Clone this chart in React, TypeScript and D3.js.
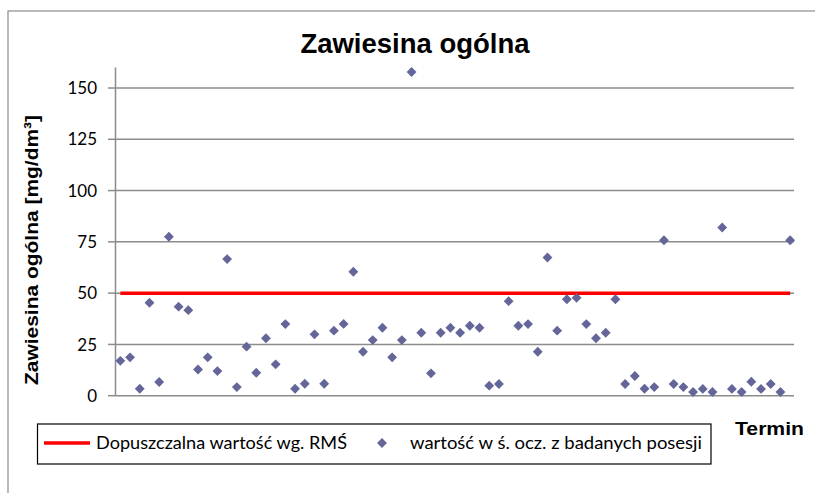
import React from "react";
import * as d3 from "d3";

const values: number[] = [
  17, 18.7, 3.4, 45.3, 6.7, 77.5, 43.4, 41.7, 12.8, 18.7,
  12, 66.6, 4.2, 23.9, 11.2, 28, 15.3, 34.9, 3.4, 5.8,
  29.9, 5.8, 31.7, 35, 60.4, 21.4, 27.1, 33.1, 18.7, 27.1,
  157.8, 30.7, 10.9, 30.7, 33.1, 30.7, 34.1, 33.1, 4.9, 5.7,
  46.1, 34.1, 34.9, 21.4, 67.4, 31.7, 47, 47.7, 34.9, 28,
  30.7, 47, 5.7, 9.6, 3.4, 4.2, 75.8, 5.7, 4.2, 1.8,
  3.3, 1.8, 82, 3.3, 1.8, 6.8, 3.3, 5.7, 1.8, 75.8,
];
const categories: number[] = values.map((_, i) => i + 1);
const limitValue = 50;
const limits: number[] = categories.map(() => limitValue);
const yTicks: number[] = [0, 25, 50, 75, 100, 125, 150];

const title = "Zawiesina ogólna";
const yTitle = "Zawiesina ogólna [mg/dm³]";
const xTitle = "Termin";
const legendLine = "Dopuszczalna wartość wg. RMŚ";
const legendPoints = "wartość w ś. ocz. z badanych posesji";

const W = 815;
const H = 493;
const left = 115.5;
const right = 795;
const top = 67.5;
const bottom = 395.7;

export default function App() {
  const x = d3.scalePoint<number>().domain(categories).range([left, right]).padding(0.5);
  const y = d3.scaleLinear().domain([0, 160]).range([bottom, top]);
  const line = d3
    .line<number>()
    .x((_, i) => x(categories[i]) as number)
    .y((d) => y(d));
  const diamond = d3.symbol().type(d3.symbolDiamond2).size(62)();
  const gridColor = "#8c8c8c";
  const markerColor = "#646699";
  const tickFont = "Lato, 'Open Sans', sans-serif";

  return (
    <svg width={W} height={H} style={{ position: "absolute", left: 0, top: 0 }} xmlns="http://www.w3.org/2000/svg">
      <rect x={0} y={0} width={W} height={H} fill="#fff" />
      <rect x={8} y={11} width={900} height={700} fill="none" stroke={gridColor} strokeWidth={1.2} />
      <text x={415} y={53} textAnchor="middle" fontFamily="'Liberation Sans', Arial, sans-serif" fontWeight="bold" fontSize={27.5}>
        {title}
      </text>
      {yTicks.map((t) => (
        <g key={t}>
          <line x1={left} x2={right - 1} y1={y(t)} y2={y(t)} stroke={gridColor} strokeWidth={1.5} />
          <line x1={108} x2={left} y1={y(t)} y2={y(t)} stroke={gridColor} strokeWidth={1.5} />
          <text x={97} y={y(t)} dy="0.36em" textAnchor="end" fontFamily={tickFont} fontSize={17}>
            {t}
          </text>
        </g>
      ))}
      <line x1={left} x2={left} y1={top} y2={bottom} stroke={gridColor} strokeWidth={1.5} />
      <path d={line(limits) || ""} fill="none" stroke="#ff0000" strokeWidth={3.5} />
      {values.map((v, i) => (
        <path key={i} d={diamond || ""} transform={`translate(${x(categories[i])},${y(v)})`} fill={markerColor} />
      ))}
      <text
        transform="translate(38,250) rotate(-90)"
        textAnchor="middle"
        fontFamily="'Liberation Sans', Arial, sans-serif"
        fontWeight="bold"
        fontSize={19}
        textLength={270}
        lengthAdjust="spacingAndGlyphs"
      >
        {yTitle}
      </text>
      <text x={735} y={435} fontFamily="'Liberation Sans', Arial, sans-serif" fontWeight="bold" fontSize={19} textLength={69} lengthAdjust="spacingAndGlyphs">
        {xTitle}
      </text>
      <rect x={37.5} y={424} width={673.5} height={40} fill="#fff" stroke="#000" strokeWidth={1.2} />
      <line x1={44} x2={90} y1={443} y2={443} stroke="#ff0000" strokeWidth={3.5} />
      <text x={96} y={443} dy="0.35em" fontFamily={tickFont} fontSize={17} textLength={251} lengthAdjust="spacingAndGlyphs">
        {legendLine}
      </text>
      <path d={diamond || ""} transform="translate(382,443)" fill={markerColor} />
      <text x={410} y={443} dy="0.35em" fontFamily={tickFont} fontSize={17} textLength={292} lengthAdjust="spacingAndGlyphs">
        {legendPoints}
      </text>
    </svg>
  );
}
